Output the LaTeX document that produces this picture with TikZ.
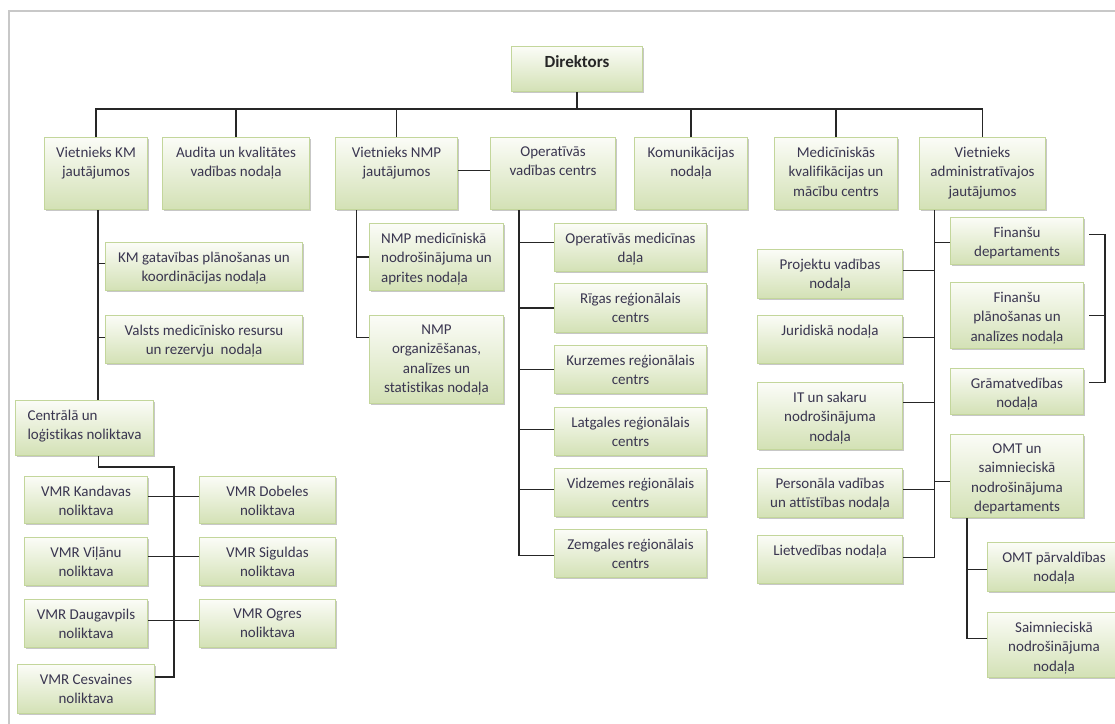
\documentclass[tikz,border=0pt]{standalone}
\usepackage{fontspec}
\setmainfont{Carlito}[Ligatures=NoCommon]
\usetikzlibrary{shadows}
\definecolor{boxtop}{HTML}{FBFCF7}
\definecolor{boxbot}{HTML}{D3E1B5}
\definecolor{boxline}{HTML}{C3D69B}
\definecolor{txtc}{HTML}{3A3650}
\definecolor{framec}{HTML}{C8C8C8}
\tikzset{
 orgbox/.style={rectangle, draw=boxline, line width=1pt, top color=boxtop, bottom color=boxbot, inner sep=0pt,
   drop shadow={shadow xshift=1.5pt, shadow yshift=-1.5pt, fill=black, opacity=0.22}},
 orgtxt/.style={inner sep=0pt, text=txtc, font=\fontsize{15}{19.5}\selectfont, anchor=north},
 conn/.style={draw=black!85, line width=1.2pt},
}
\newcommand\bx[7][center]{%
 \node[orgbox, anchor=north west, minimum width={(#5-#3)*1pt}, minimum height={(#6-#4)*1pt}] (#2) at (#3,#4) {};
 \node[orgtxt, align=#1] (#2t) at ([yshift=-9.5pt]#2.north) {#7};
}
\begin{document}
\begin{tikzpicture}[x=1pt,y=-1pt]
\clip (0,0) rectangle (1115,723);
\fill[white] (0,0) rectangle (1115,723);
\draw[framec, line width=2pt] (8.6,730) -- (8.6,10.7) -- (1120,10.7);
% top level
\bx{dir}{511}{46}{642}{91}{{\fontsize{17}{19}\bfseries\color{black!85}\raisebox{0pt}[11.5pt]{Direktors}}}
\bx{vkm}{44}{137}{147}{209}{Vietnieks KM\\jautājumos}
\bx{aud}{162}{137}{309}{209}{Audita un kvalitātes\\vadības nodaļa}
\bx{vnmp}{335}{137}{457}{209}{Vietnieks NMP\\jautājumos}
\bx{op}{490}{137}{615}{209}{Operatīvās\\vadības centrs}
\bx{kom}{634}{137}{747}{209}{Komunikācijas\\nodaļa}
\bx{med}{774}{137}{897}{209}{Medicīniskās\\kvalifikācijas un\\mācību centrs}
\bx{adm}{919}{137}{1045}{209}{Vietnieks\\administratīvajos\\jautājumos}
% KM
\bx{kmg}{105}{242}{302}{290}{KM gatavības plānošanas un\\koordinācijas nodaļa}
\bx{vmr}{105}{315}{302}{363}{Valsts medicīnisko resursu\\un rezervju\ \ nodaļa}
\bx[left]{cent}{15}{400}{153}{455}{Centrālā un\\loģistikas noliktava}
% NMP
\bx[left]{nmpm}{369}{223}{503}{290}{NMP medicīniskā\\nodrošinājuma un\\aprites nodaļa}
\bx{nmpo}{369}{315}{503}{403}{NMP\\organizēšanas,\\analīzes un\\statistikas nodaļa}
% Op
\bx{omd}{554}{223}{706}{271}{Operatīvās medicīnas\\daļa}
\bx{rig}{554}{283}{706}{332}{Rīgas reģionālais\\centrs}
\bx{kur}{554}{345}{706}{393}{Kurzemes reģionālais\\centrs}
\bx{lat}{554}{407}{706}{455}{Latgales reģionālais\\centrs}
\bx{vid}{554}{468}{706}{516}{Vidzemes reģionālais\\centrs}
\bx{zem}{554}{529}{706}{577}{Zemgales reģionālais\\centrs}
% Admin left
\bx{proj}{757}{249}{902}{298}{Projektu vadības\\nodaļa}
\bx{jur}{757}{315}{902}{363}{Juridiskā nodaļa}
\bx{itn}{757}{382}{902}{449}{IT un sakaru\\nodrošinājuma\\nodaļa}
\bx{pers}{757}{468}{902}{517}{Personāla vadības\\un attīstības nodaļa}
\bx{liet}{757}{535}{902}{583}{Lietvedības nodaļa}
% Admin right
\bx{fd}{950}{217}{1083}{264}{Finanšu\\departaments}
\bx{fp}{950}{282}{1083}{348}{Finanšu\\plānošanas un\\analīzes nodaļa}
\bx{gr}{950}{368}{1083}{414}{Grāmatvedības\\nodaļa}
\bx{omt}{950}{434}{1083}{517}{OMT un\\saimnieciskā\\nodrošinājuma\\departaments}
\bx{omtp}{987}{542}{1120}{591}{OMT pārvaldības\\nodaļa}
\bx{saim}{987}{612}{1120}{677}{Saimnieciskā\\nodrošinājuma\\nodaļa}
% VMR
\bx{kan}{24}{476}{147}{523}{VMR Kandavas\\noliktava}
\bx{dob}{199}{476}{335}{523}{VMR Dobeles\\noliktava}
\bx{vil}{24}{537}{147}{585}{VMR Viļānu\\noliktava}
\bx{sig}{199}{537}{335}{585}{VMR Siguldas\\noliktava}
\bx{dau}{24}{599}{147}{647}{VMR Daugavpils\\noliktava}
\bx{ogr}{199}{599}{335}{647}{VMR Ogres\\noliktava}
\bx{ces}{17}{664}{154}{713}{VMR Cesvaines\\noliktava}
% connectors: top bus
\coordinate (bus) at ([yshift=-17pt]dir.south);
\draw[conn] (dir.south) -- (bus);
\draw[conn] (vkm.north) |- (bus) -| (adm.north);
\foreach \n in {aud,vnmp,kom,med} \draw[conn] (\n.north) -- (\n.north |- bus);
\draw[conn] ([yshift=3pt]vnmp.east) -- ([yshift=3pt]op.west);
% KM branch
\coordinate (kmx) at ([xshift=2pt]vkm.south);
\draw[conn] (kmx) -- (kmx |- cent.north);
\draw[conn] ([yshift=3pt]kmg.west) -- ([yshift=3pt]kmg.west -| kmx);
\draw[conn] ([yshift=2pt]vmr.west) -- ([yshift=2pt]vmr.west -| kmx);
% warehouses
\coordinate (cx) at ([xshift=14pt]cent.south);
\coordinate (wv) at (174,467);
\draw[conn] (cx) |- (wv) |- ([yshift=12pt]ces.east);
\draw[conn] ([yshift=3.5pt]kan.east) -- ([yshift=3.5pt]dob.west);
\draw[conn] ([yshift=5pt]vil.east) -- ([yshift=5pt]sig.west);
\draw[conn] ([yshift=3pt]dau.east) -- ([yshift=3pt]ogr.west);
% NMP
\coordinate (nx) at ([xshift=-40pt]vnmp.south);
\draw[conn] (nx) |- ([yshift=22pt]nmpo.west);
\draw[conn] (nmpm.west) -- (nmpm.west -| nx);
% Op
\coordinate (ox) at ([xshift=-34pt]op.south);
\draw[conn] (ox) |- ([yshift=-2pt]zem.west);
\draw[conn] ([yshift=5pt]omd.west) -- ([yshift=5pt]omd.west -| ox);
\draw[conn] (rig.west) -- (rig.west -| ox);
\draw[conn] (kur.west) -- (kur.west -| ox);
\draw[conn] ([yshift=2pt]lat.west) -- ([yshift=2pt]lat.west -| ox);
\draw[conn] ([yshift=3pt]vid.west) -- ([yshift=3pt]vid.west -| ox);
% Admin
\coordinate (ax) at ([xshift=-48pt]adm.south);
\draw[conn] (ax) |- ([yshift=2pt]liet.east);
\draw[conn] ([yshift=3.5pt]proj.east) -- ([yshift=3.5pt]proj.east -| ax);
\draw[conn] ([yshift=2pt]jur.east) -- ([yshift=2pt]jur.east -| ax);
\draw[conn] ([yshift=13.5pt]itn.east) -- ([yshift=13.5pt]itn.east -| ax);
\draw[conn] ([yshift=3.5pt]pers.east) -- ([yshift=3.5pt]pers.east -| ax);
\draw[conn] ([yshift=-1.5pt]fd.west) -- ([yshift=-1.5pt]fd.west -| ax);
\draw[conn] ([yshift=-5.5pt]omt.west) -- ([yshift=-5.5pt]omt.west -| ax);
% finance bracket
\draw[conn] ([xshift=5pt,yshift=6.5pt]fd.east) -- ++(16,0) |- ([xshift=5pt,yshift=9pt]gr.east);
\draw[conn] ([xshift=5pt]fp.east) -- ++(16,0);
% OMT
\coordinate (mx) at ([xshift=-50pt]omt.south);
\draw[conn] (mx) |- ([yshift=6.5pt]saim.west);
\draw[conn] ([yshift=-2.5pt]omtp.west) -- ([yshift=-2.5pt]omtp.west -| mx);
\end{tikzpicture}
\end{document}
